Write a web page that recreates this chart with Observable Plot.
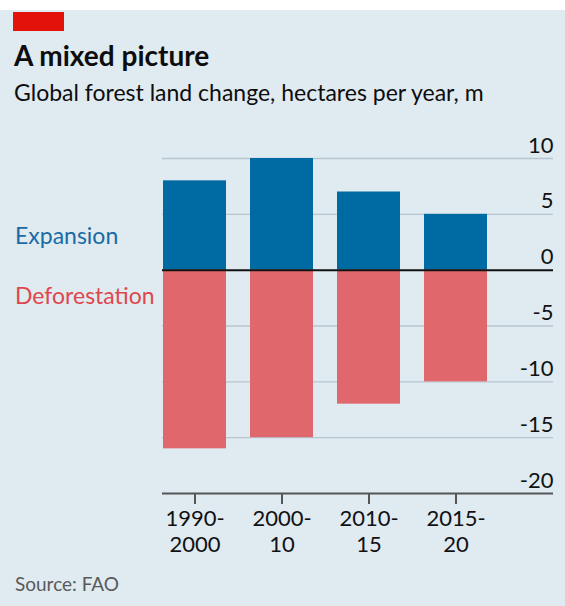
<!DOCTYPE html>
<html>
<head>
<meta charset="utf-8">
<script src="https://cdn.jsdelivr.net/npm/d3@7"></script>
<script src="https://cdn.jsdelivr.net/npm/@observablehq/plot@0.6"></script>
<style>
  html, body { margin: 0; padding: 0; }
  body { width: 565px; height: 606px; background: #ffffff; position: relative; overflow: hidden; font-family: Lato, "Noto Sans", sans-serif; }
  #panel { position: absolute; left: 0; top: 10px; width: 565px; height: 596px; background: #dfeaf1; }
  #redbar { position: absolute; left: 13px; top: 12px; width: 51px; height: 19px; background: #e3120b; }
  .t { position: absolute; left: 14px; white-space: nowrap; line-height: 1.2; }
  #title { top: 39px; font-size: 28px; font-weight: 700; color: #0d0d0d; }
  #subtitle { top: 79px; font-size: 23px; color: #0d0d0d; }
  #exp { top: 222px; left: 15px; font-size: 23px; color: #1a6aa3; }
  #def { top: 282px; left: 15px; font-size: 23px; color: #e0474c; }
  #source { top: 573px; left: 15px; font-size: 19px; color: #595959; }
  #chart { position: absolute; left: 0; top: 120px; }
</style>
</head>
<body>
<div id="panel"></div>
<div id="redbar"></div>
<div class="t" id="title">A mixed picture</div>
<div class="t" id="subtitle">Global forest land change, hectares per year, m</div>
<div class="t" id="exp">Expansion</div>
<div class="t" id="def">Deforestation</div>
<div class="t" id="source">Source: FAO</div>
<div id="chart"></div>
<script>
const periods = ["1990-2000", "2000-10", "2010-15", "2015-20"];
const expansion = [8.0, 10.0, 7.0, 5.0];
const deforestation = [-16.0, -15.0, -12.0, -10.0];
const yTicks = [-20, -15, -10, -5, 0, 5, 10];
const gridTicks = [-15, -10, -5, 5, 10];

const expData = periods.map((p, i) => ({period: p, value: expansion[i]}));
const defData = periods.map((p, i) => ({period: p, value: deforestation[i]}));

const chart = Plot.plot({
  width: 565,
  height: 450,
  marginTop: 38,
  marginBottom: 77,
  marginLeft: 162,
  marginRight: 12,
  style: {background: "transparent", fontFamily: "Lato, 'Noto Sans', sans-serif", fontSize: "22px", color: "#111"},
  x: {domain: periods, range: [162, 487], paddingInner: 0.276, paddingOuter: 0, label: null},
  y: {domain: [-20, 10], label: null},
  marks: [
    Plot.ruleY(gridTicks, {stroke: "#b8c6cf", strokeWidth: 1.3}),
    Plot.barY(expData, {x: "period", y: "value", fill: "#006ba2"}),
    Plot.barY(defData, {x: "period", y: "value", fill: "#e0676b"}),
    Plot.ruleY([0], {stroke: "#111", strokeWidth: 2}),
    Plot.ruleY([-20], {stroke: "#555", strokeWidth: 2}),
    Plot.axisY({ticks: yTicks, anchor: "right", tickSize: 0, tickPadding: 0, textAnchor: "end", lineAnchor: "bottom", dy: -6, fontSize: 22, fill: "#111", label: null, tickFormat: d => String(d)}),
    Plot.axisX({anchor: "bottom", tickSize: 11, tickPadding: 4, stroke: "#555", strokeWidth: 2, fontSize: 22, fill: "#111", lineHeight: 1.15, tickFormat: d => d.replace("-", "-\n"), label: null})
  ]
});
document.getElementById("chart").appendChild(chart);
</script>
</body>
</html>
